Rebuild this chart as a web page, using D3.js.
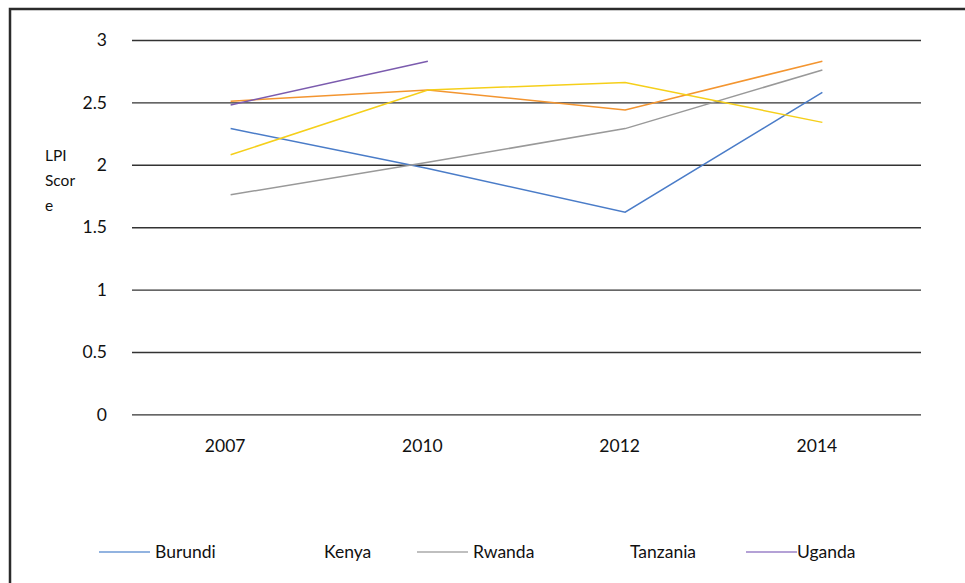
<!DOCTYPE html>
<html>
<head>
<meta charset="utf-8">
<script src="https://cdn.jsdelivr.net/npm/d3@7"></script>
<style>
  html, body { margin: 0; padding: 0; background: #fff; }
  svg { display: block; font-family: Lato, "Open Sans", sans-serif; }
</style>
</head>
<body>
<svg id="chart" width="965" height="583"></svg>
<script>
const years = ["2007", "2010", "2012", "2014"];
const yTicks = [0, 0.5, 1, 1.5, 2, 2.5, 3];
const burundi  = [2.29, 1.97, 1.62, 2.58];
const kenya    = [2.51, 2.60, 2.44, 2.83];
const rwanda   = [1.76, 2.02, 2.29, 2.76];
const tanzania = [2.08, 2.60, 2.66, 2.34];
const uganda   = [2.48, 2.83, null, null];
const seriesNames = ["Burundi", "Kenya", "Rwanda", "Tanzania", "Uganda"];
const seriesColors = ["#4A7CC8", "#F39530", "#999999", "#F5CF1A", "#7B5BAE"];
const legendColors = ["#6E9AD6", null, "#AAAAAA", null, "#9B82C8"];

const series = [burundi, kenya, rwanda, tanzania, uganda].map((vals, i) => ({
  name: seriesNames[i], color: seriesColors[i], legendColor: legendColors[i],
  values: vals.map((v, j) => ({ year: years[j], value: v }))
}));

const svg = d3.select("#chart");
const FONT = "Lato, 'Open Sans', sans-serif";

// outer frame
svg.append("rect").attr("x", 10).attr("y", 9).attr("width", 965).attr("height", 600)
  .attr("fill", "none").attr("stroke", "#2b2b2b").attr("stroke-width", 2.5);

const plot = { left: 132, right: 921, top: 40, bottom: 414.4 };
const x = d3.scalePoint().domain(years).range([plot.left, plot.right]).padding(0.5);
const y = d3.scaleLinear().domain([0, 3]).range([plot.bottom, plot.top]);

// gridlines + y tick labels
const yAxis = d3.axisLeft(y).tickValues(yTicks).tickSize(-(plot.right - plot.left))
  .tickFormat(d3.format("~g")).tickPadding(25);
const gy = svg.append("g").attr("transform", `translate(${plot.left},0)`).call(yAxis);
gy.select(".domain").remove();
gy.selectAll(".tick line").attr("stroke", "#333").attr("stroke-width", 1.4);
gy.selectAll(".tick text").attr("font-size", 17.5).attr("fill", "#111")
  .attr("font-family", FONT);

// x axis labels
const xAxis = d3.axisBottom(x).tickSize(0).tickPadding(25);
const gx = svg.append("g").attr("transform", `translate(-6,${plot.bottom})`).call(xAxis);
gx.select(".domain").remove();
gx.selectAll(".tick text").attr("font-size", 17.5).attr("fill", "#111")
  .attr("font-family", FONT);

// y label
const yl = svg.append("text").attr("font-size", 15.5).attr("fill", "#111").attr("font-family", FONT);
["LPI", "Scor", "e"].forEach((t, i) => {
  yl.append("tspan").attr("x", 45).attr("y", 161 + i * 25).text(t);
});

// lines
const line = d3.line()
  .defined(d => d.value !== null)
  .x(d => x(d.year)).y(d => y(d.value));
svg.append("g").selectAll("path").data(series).join("path")
  .attr("d", d => line(d.values))
  .attr("fill", "none").attr("stroke", d => d.color).attr("stroke-width", 1.5);

// legend
const legendX = [99, 268, 417, 574, 746];
const lg = svg.append("g").attr("font-size", 17.5).attr("fill", "#111").attr("font-family", FONT);
series.forEach((s, i) => {
  const g = lg.append("g").attr("transform", `translate(${legendX[i]},552)`);
  if (s.legendColor) {
    g.append("line").attr("x1", 0).attr("x2", 51).attr("y1", 0).attr("y2", 0)
      .attr("stroke", s.legendColor).attr("stroke-width", 1.5);
  }
  g.append("text").attr("x", i === 4 ? 51 : 56).attr("y", 6).text(s.name);
});
</script>
</body>
</html>
